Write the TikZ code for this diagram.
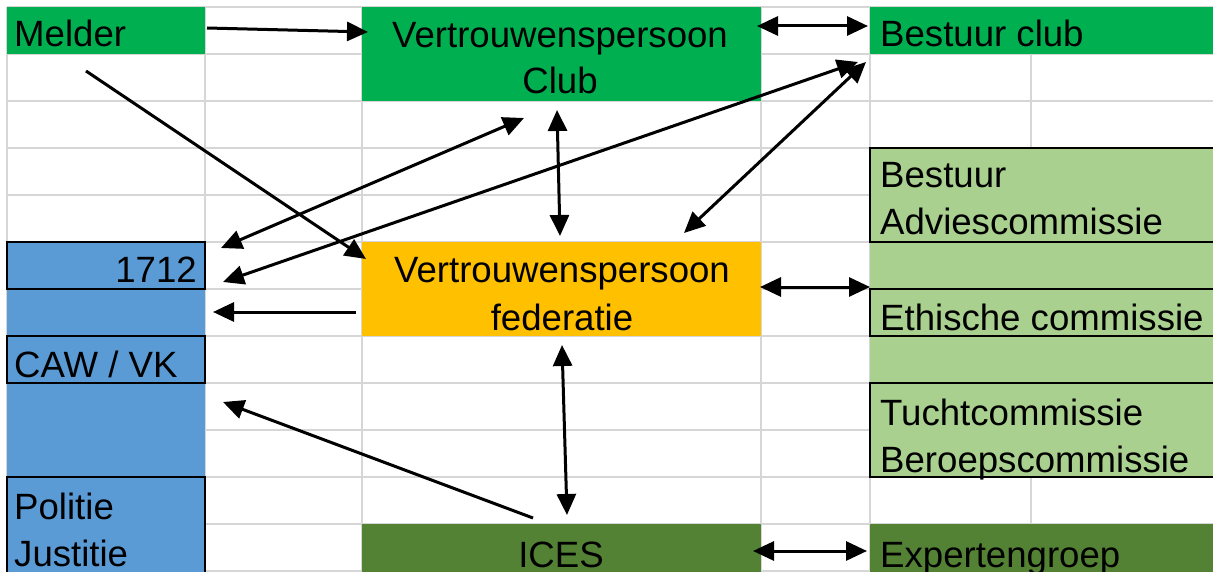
\documentclass[tikz,border=0pt]{standalone}
\usepackage{fontspec}
\setmainfont{Liberation Sans}
\usetikzlibrary{arrows.meta}

\definecolor{clubgreen}{HTML}{00B050}
\definecolor{fedorange}{HTML}{FFC000}
\definecolor{hulpblue}{HTML}{5B9BD5}
\definecolor{comgreen}{HTML}{A9D08E}
\definecolor{icesgreen}{HTML}{548235}
\definecolor{gridgrey}{HTML}{D6D6D6}

\begin{document}
\begin{tikzpicture}[x=1pt,y=-1pt,
	rooster/.style={draw=gridgrey, line width=2pt},
	cel/.style={anchor=north west, inner sep=0pt, outer sep=0pt},
	box/.style={draw=black, line width=1.6pt},
	txt/.style={font=\fontsize{36.6}{47}\selectfont, inner sep=0pt},
	arr/.style={line width=3pt, -{Triangle[length=21pt,width=19pt]}},
	darr/.style={line width=3pt, {Triangle[length=21pt,width=19pt]}-{Triangle[length=21pt,width=19pt]}}]

	\clip (0,0) rectangle (1213,572);

	% Set the row height of the sheet
	\def\rij{47}

	% grid lines of the sheet
	\foreach \r in {0,...,12} {
		\draw[rooster] (7,{7+\rij*\r}) -- (1213,{7+\rij*\r});
	}
	\foreach \c in {7,205,362,761,870,1031} {
		\draw[rooster] (\c,7) -- (\c,580);
	}

	% coloured cells
	\node[cel, fill=clubgreen, minimum width=198pt, minimum height=47pt] (melder) at (7,7) {};
	\node[cel, fill=clubgreen, minimum width=399pt, minimum height=94pt] (vpclub) at (362,7) {};
	\node[cel, fill=clubgreen, minimum width=350pt, minimum height=47pt] (bestuur) at (870,7) {};
	\node[cel, fill=hulpblue, minimum width=198pt, minimum height=340pt] (hulp) at (7,242) {};
	\node[cel, box, minimum width=198pt, minimum height=47pt] (b1712) at (7,242) {};
	\node[cel, box, minimum width=198pt, minimum height=47pt] (caw) at (7,336) {};
	\node[cel, box, minimum width=198pt, minimum height=110pt] (politie) at (7,477) {};
	\node[cel, fill=fedorange, minimum width=399pt, minimum height=94pt] (vpfed) at (362,242) {};
	\node[cel, fill=icesgreen, minimum width=399pt, minimum height=60pt] (ices) at (362,524) {};
	\node[cel, fill=comgreen, minimum width=350pt, minimum height=329pt] (comm) at (870,148) {};
	\node[cel, box, minimum width=350pt, minimum height=94pt] (advies) at (870,148) {};
	\node[cel, box, minimum width=350pt, minimum height=47pt] (ethisch) at (870,289) {};
	\node[cel, box, minimum width=350pt, minimum height=94pt] (tucht) at (870,383) {};
	\node[cel, fill=icesgreen, minimum width=350pt, minimum height=60pt] (expert) at (870,524) {};

	% texts
	\node[txt, anchor=base west] (tmelder) at (14,47) {Melder};
	\node[txt, anchor=base] (tvpclub1) at (560,48) {Vertrouwenspersoon};
	\node[txt, anchor=base] (tvpclub2) at (560,94) {Club};
	\node[txt, anchor=base west] (tbestuur) at (880,47) {Bestuur club};
	\node[txt, anchor=base west] (tadvies1) at (880,188) {Bestuur};
	\node[txt, anchor=base west] (tadvies2) at (880,235) {Adviescommissie};
	\node[txt, anchor=base east] (t1712) at (197,283) {1712};
	\node[txt, anchor=base west] (tcaw) at (14,377) {CAW / VK};
	\node[txt, anchor=base west] (tpolitie) at (14,519) {Politie};
	\node[txt, anchor=base west] (tjustitie) at (14,566) {Justitie};
	\node[txt, anchor=base] (tvpfed1) at (562,283) {Vertrouwenspersoon};
	\node[txt, anchor=base] (tvpfed2) at (562,330) {federatie};
	\node[txt, anchor=base] (tices) at (561,567) {ICES};
	\node[txt, anchor=base west] (tethisch) at (880,330) {Ethische commissie};
	\node[txt, anchor=base west] (ttucht1) at (880,425) {Tuchtcommissie};
	\node[txt, anchor=base west] (ttucht2) at (880,472) {Beroepscommissie};
	\node[txt, anchor=base west] (texpert) at (880,567) {Expertengroep};

	% arrow ends
	\coordinate (m1) at (207,28);   \coordinate (c1) at (368,32);
	\coordinate (c2) at (757,26);   \coordinate (b2) at (868,26);
	\coordinate (m3) at (86,71);    \coordinate (f3) at (366,259);
	\coordinate (h4) at (221,248);  \coordinate (c4) at (524,118);
	\coordinate (h5) at (223,282);  \coordinate (b5) at (858,62);
	\coordinate (c6) at (557,110);  \coordinate (f6) at (560,236);
	\coordinate (f7) at (684,233);  \coordinate (b7) at (866,62);
	\coordinate (f8) at (356,312);  \coordinate (h8) at (213,312);
	\coordinate (f9) at (760,287);  \coordinate (e9) at (870,287);
	\coordinate (f10) at (562,345); \coordinate (i10) at (567,515);
	\coordinate (i11) at (533,518); \coordinate (h11) at (223,402);
	\coordinate (i12) at (753,551); \coordinate (x12) at (867,551);

	% connections
	\draw[arr] (m1) -- (c1);
	\draw[darr] (c2) -- (b2);
	\draw[arr] (m3) -- (f3);
	\draw[darr] (h4) -- (c4);
	\draw[darr] (h5) -- (b5);
	\draw[darr] (c6) -- (f6);
	\draw[darr] (f7) -- (b7);
	\draw[arr] (f8) -- (h8);
	\draw[darr] (f9) -- (e9);
	\draw[darr] (f10) -- (i10);
	\draw[arr] (i11) -- (h11);
	\draw[darr] (i12) -- (x12);
\end{tikzpicture}
\end{document}
